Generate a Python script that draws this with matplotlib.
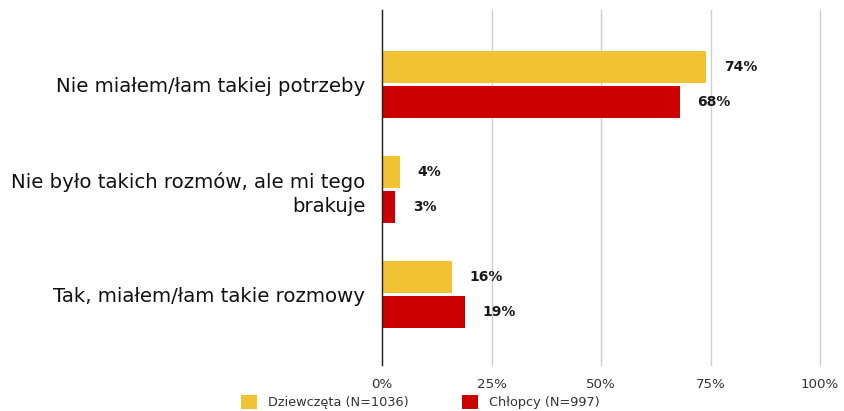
"""Horizontal grouped bars: girls vs boys answers."""

import matplotlib.pyplot as plt
import numpy as np

categories = [
    "Nie miałem/łam takiej potrzeby",
    "Nie było takich rozmów, ale mi tego\nbrakuje",
    "Tak, miałem/łam takie rozmowy",
]
girls = [74, 4, 16]
boys = [68, 3, 19]
series_names = ["Dziewczęta (N=1036)", "Chłopcy (N=997)"]
x_ticks = [0, 25, 50, 75, 100]

plt.rcParams["font.family"] = ["DejaVu Sans"]

figure = plt.figure(figsize=(8.44, 4.11), dpi=100)
axis = figure.add_axes([382 / 844, 46 / 411, 438 / 844, 355 / 411])

positions = np.arange(len(categories))
bar_height = 0.30
offset = 0.167
colors = ["#f1c232", "#cc0000"]

for values, shift, color, name in zip(
    (girls, boys), (-offset, offset), colors, series_names, strict=True
):
    bars = axis.barh(positions + shift, values, height=bar_height, color=color,
                     label=name, zorder=3)
    for bar, value in zip(bars, values, strict=True):
        axis.text(value + 4.0, bar.get_y() + bar.get_height() / 2, f"{value}%",
                  va="center", ha="left", fontsize=10, fontweight="bold",
                  color="#1a1a1a")

axis.set_ylim(len(categories) - 1 + 0.67, -0.71)
axis.set_xlim(0, 100)
axis.set_yticks(positions)
axis.set_yticklabels(categories, fontsize=14.2, color="#111111", linespacing=1.3)
axis.set_xticks(x_ticks)
axis.set_xticklabels([f"{t}%" for t in x_ticks], fontsize=9.6, color="#333333")
axis.tick_params(axis="y", length=0, pad=12)
axis.tick_params(axis="x", length=0, pad=9)
axis.grid(axis="x", color="#d0d0d0", linewidth=1, zorder=0)
for line in axis.get_xgridlines():
    line.set_clip_on(False)
for side in ("top", "right", "bottom"):
    axis.spines[side].set_visible(False)
axis.spines["left"].set_color("#222222")
axis.spines["left"].set_linewidth(1)
axis.spines["left"].set_zorder(4)

figure.legend(loc="center left", bbox_to_anchor=(229 / 844, 9 / 411), ncol=2,
              frameon=False, fontsize=9.3, handlelength=1.24, handleheight=1.24,
              handletextpad=0.85, columnspacing=4.15, labelcolor="#333333")

figure.savefig("out.png", dpi=100)
